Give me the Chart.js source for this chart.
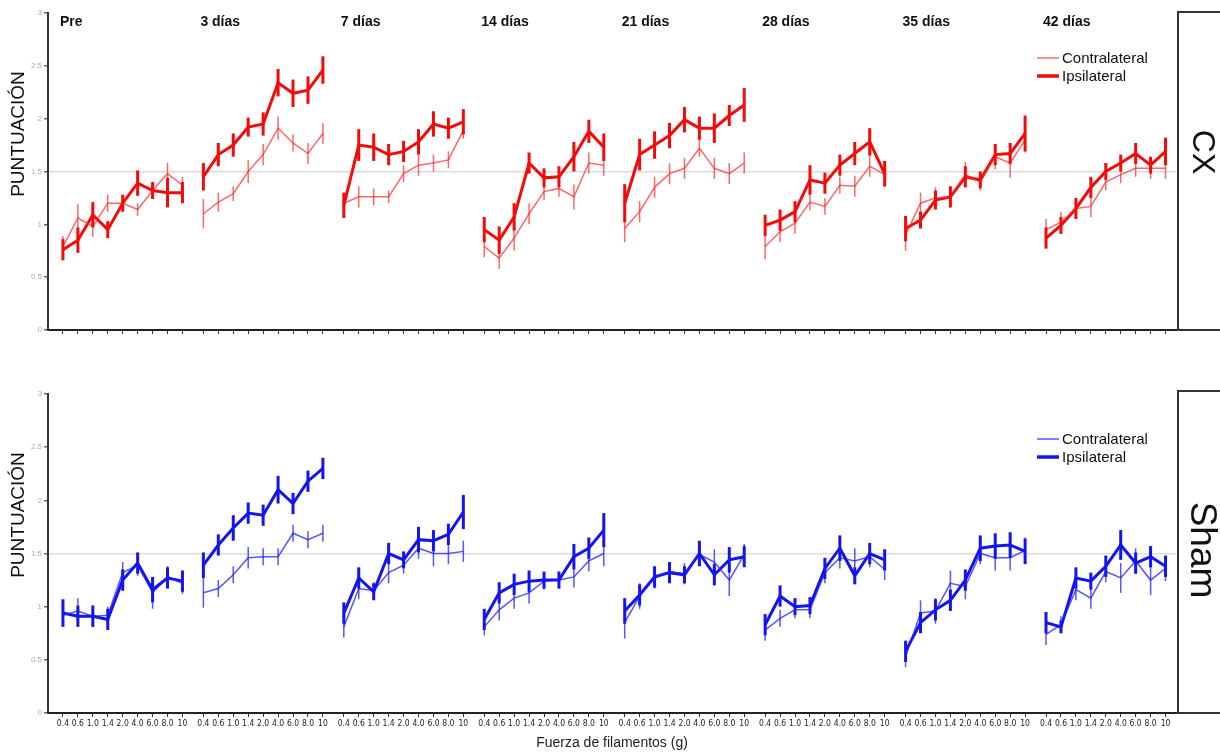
<!DOCTYPE html>
<html lang="es">
<head>
<meta charset="UTF-8">
<title>Puntuación según fuerza de filamentos</title>
<script src="https://cdn.jsdelivr.net/npm/chart.js"></script>
<style>
    body {
        margin: 0;
        width: 1220px;
        height: 755px;
        position: relative;
        overflow: hidden;
        background: #fff;
        font-family: 'Liberation Sans', sans-serif;
    }
    .panel {
        position: absolute;
        left: 0;
        width: 1178px;
    }
    #top { top: 0; height: 345px; }
    #bottom { top: 380px; height: 375px; }
    .box {
        position: absolute;
        left: 1177px;
        width: 70px;
        border: 2px solid #333;
        box-sizing: border-box;
    }
    .box span {
        position: absolute;
        left: 24px;
        transform: translate(-50%, -50%);
        writing-mode: vertical-rl;
        color: #111;
        white-space: nowrap;
    }
</style>
</head>
<body>

<div class="panel" id="top"><canvas id="cxChart"></canvas></div>
<div class="panel" id="bottom"><canvas id="shamChart"></canvas></div>

<div class="box" style="top:11px;height:320px"><span style="top:139px;font-size:32px">CX</span></div>
<div class="box" style="top:390px;height:324px"><span style="top:158px;font-size:37px">Sham</span></div>

<script>
    const forces = ['0.4', '0.6', '1.0', '1.4', '2.0', '4.0', '6.0', '8.0', '10'];
    const days = ['Pre', '3 días', '7 días', '14 días', '21 días', '28 días', '35 días', '42 días'];

    // CX
    const cxIpsi = [
        [0.76, 0.85, 1.09, 0.95, 1.2, 1.39, 1.32, 1.3, 1.3],
        [1.45, 1.66, 1.75, 1.92, 1.95, 2.34, 2.24, 2.27, 2.46],
        [1.18, 1.75, 1.73, 1.66, 1.69, 1.78, 1.95, 1.91, 1.97],
        [0.95, 0.85, 1.07, 1.58, 1.44, 1.45, 1.64, 1.88, 1.73],
        [1.2, 1.66, 1.75, 1.84, 1.99, 1.91, 1.91, 2.03, 2.13],
        [0.99, 1.04, 1.12, 1.42, 1.39, 1.56, 1.67, 1.78, 1.48],
        [0.96, 1.04, 1.23, 1.26, 1.45, 1.42, 1.66, 1.67, 1.86],
        [0.87, 0.99, 1.15, 1.35, 1.5, 1.58, 1.67, 1.56, 1.69]
    ];
    const cxContra = [
        [0.79, 1.06, 0.98, 1.2, 1.2, 1.14, 1.32, 1.48, 1.37],
        [1.1, 1.21, 1.29, 1.5, 1.66, 1.91, 1.77, 1.67, 1.86],
        [1.2, 1.26, 1.26, 1.26, 1.48, 1.56, 1.58, 1.61, 1.89],
        [0.79, 0.68, 0.87, 1.1, 1.31, 1.34, 1.26, 1.58, 1.56],
        [0.96, 1.12, 1.35, 1.48, 1.53, 1.72, 1.53, 1.48, 1.58],
        [0.79, 0.93, 1.01, 1.21, 1.17, 1.37, 1.36, 1.55, 1.47],
        [0.9, 1.2, 1.25, 1.26, 1.47, 1.4, 1.64, 1.58, 1.8],
        [0.95, 1.02, 1.15, 1.17, 1.4, 1.47, 1.53, 1.53, 1.53]
    ];
    const cxIpsiErr = [
        [0.1, 0.12, 0.12, 0.08, 0.08, 0.12, 0.08, 0.14, 0.1],
        [0.13, 0.11, 0.11, 0.09, 0.11, 0.13, 0.13, 0.13, 0.13],
        [0.12, 0.15, 0.13, 0.1, 0.1, 0.12, 0.12, 0.1, 0.12],
        [0.12, 0.13, 0.13, 0.1, 0.09, 0.1, 0.14, 0.11, 0.13],
        [0.18, 0.15, 0.13, 0.12, 0.12, 0.11, 0.14, 0.1, 0.16],
        [0.1, 0.1, 0.1, 0.14, 0.1, 0.1, 0.11, 0.13, 0.12],
        [0.12, 0.08, 0.09, 0.1, 0.1, 0.08, 0.1, 0.1, 0.17],
        [0.1, 0.08, 0.1, 0.1, 0.08, 0.08, 0.1, 0.08, 0.13]
    ];
    const cxContraErr = [
        [0.1, 0.13, 0.1, 0.08, 0.08, 0.06, 0.08, 0.1, 0.08],
        [0.14, 0.09, 0.07, 0.11, 0.1, 0.11, 0.08, 0.1, 0.1],
        [0.1, 0.1, 0.08, 0.06, 0.08, 0.1, 0.08, 0.08, 0.08],
        [0.1, 0.1, 0.12, 0.1, 0.08, 0.08, 0.12, 0.1, 0.1],
        [0.13, 0.1, 0.1, 0.1, 0.1, 0.08, 0.1, 0.1, 0.1],
        [0.12, 0.1, 0.1, 0.08, 0.08, 0.08, 0.1, 0.1, 0.12],
        [0.15, 0.1, 0.1, 0.1, 0.12, 0.08, 0.12, 0.14, 0.12],
        [0.1, 0.1, 0.1, 0.1, 0.08, 0.08, 0.08, 0.1, 0.1]
    ];

    // Sham
    const shamIpsi = [
        [0.94, 0.91, 0.91, 0.88, 1.25, 1.41, 1.16, 1.27, 1.24],
        [1.39, 1.58, 1.74, 1.88, 1.86, 2.1, 1.97, 2.18, 2.3],
        [0.94, 1.27, 1.14, 1.5, 1.44, 1.63, 1.62, 1.68, 1.89],
        [0.88, 1.13, 1.21, 1.24, 1.25, 1.25, 1.47, 1.55, 1.72],
        [0.96, 1.11, 1.28, 1.32, 1.3, 1.5, 1.3, 1.44, 1.47],
        [0.83, 1.1, 1.0, 1.01, 1.36, 1.55, 1.29, 1.5, 1.44],
        [0.58, 0.85, 0.97, 1.06, 1.25, 1.55, 1.57, 1.58, 1.52],
        [0.85, 0.81, 1.27, 1.24, 1.38, 1.58, 1.41, 1.47, 1.38]
    ];
    const shamContra = [
        [0.92, 0.96, 0.91, 0.92, 1.32, 1.39, 1.13, 1.28, 1.22],
        [1.13, 1.17, 1.3, 1.46, 1.47, 1.47, 1.69, 1.63, 1.69],
        [0.81, 1.17, 1.15, 1.32, 1.39, 1.55, 1.5, 1.5, 1.52],
        [0.81, 0.97, 1.08, 1.13, 1.24, 1.25, 1.28, 1.43, 1.5],
        [0.85, 1.1, 1.27, 1.33, 1.31, 1.49, 1.42, 1.25, 1.49],
        [0.78, 0.89, 0.97, 0.97, 1.32, 1.46, 1.43, 1.47, 1.35],
        [0.53, 0.94, 0.96, 1.22, 1.19, 1.5, 1.46, 1.46, 1.53],
        [0.74, 0.83, 1.16, 1.08, 1.33, 1.27, 1.43, 1.25, 1.36]
    ];
    const shamIpsiErr = [
        [0.13, 0.1, 0.1, 0.1, 0.1, 0.1, 0.12, 0.1, 0.1],
        [0.12, 0.1, 0.12, 0.1, 0.1, 0.13, 0.1, 0.1, 0.1],
        [0.1, 0.1, 0.08, 0.1, 0.08, 0.12, 0.1, 0.1, 0.16],
        [0.1, 0.1, 0.1, 0.1, 0.08, 0.08, 0.12, 0.1, 0.16],
        [0.12, 0.1, 0.1, 0.1, 0.08, 0.12, 0.1, 0.12, 0.1],
        [0.1, 0.1, 0.08, 0.08, 0.1, 0.12, 0.08, 0.1, 0.1],
        [0.1, 0.1, 0.1, 0.1, 0.1, 0.12, 0.12, 0.12, 0.12],
        [0.1, 0.06, 0.1, 0.08, 0.1, 0.14, 0.1, 0.1, 0.1]
    ];
    const shamContraErr = [
        [0.1, 0.12, 0.1, 0.08, 0.1, 0.1, 0.15, 0.1, 0.1],
        [0.14, 0.08, 0.08, 0.1, 0.08, 0.08, 0.08, 0.08, 0.08],
        [0.1, 0.1, 0.08, 0.1, 0.08, 0.1, 0.12, 0.1, 0.1],
        [0.08, 0.1, 0.1, 0.1, 0.08, 0.08, 0.1, 0.1, 0.12],
        [0.15, 0.12, 0.1, 0.08, 0.1, 0.1, 0.12, 0.15, 0.1],
        [0.1, 0.08, 0.08, 0.08, 0.1, 0.1, 0.12, 0.1, 0.1],
        [0.1, 0.12, 0.12, 0.12, 0.12, 0.1, 0.12, 0.12, 0.12],
        [0.1, 0.08, 0.1, 0.1, 0.1, 0.14, 0.12, 0.14, 0.12]
    ];

    const groupStep = 9.4; // distance between first points of consecutive groups, in point spacings

    // flatten groups into {x, y, e} points, with a null between groups so lines break
    function toPoints(vals, errs) {
        const pts = [];
        vals.forEach((grp, g) => {
            grp.forEach((v, i) => pts.push({ x: g * groupStep + i, y: v, e: errs[g][i] }));
            if (g < vals.length - 1) pts.push({ x: g * groupStep + 8.7, y: null, e: 0 });
        });
        return pts;
    }

    const tickPositions = [];
    days.forEach((d, g) => forces.forEach((f, i) => tickPositions.push(g * groupStep + i)));

    const errorBars = {
        id: 'errorBars',
        afterDatasetsDraw(chart) {
            const { ctx, scales: { x, y } } = chart;
            chart.data.datasets.forEach(ds => {
                ctx.save();
                ctx.strokeStyle = ds.borderColor;
                ctx.lineWidth = ds.borderWidth;
                ds.data.forEach(p => {
                    if (p.y == null) return;
                    const px = x.getPixelForValue(p.x);
                    ctx.beginPath();
                    ctx.moveTo(px, y.getPixelForValue(p.y - p.e));
                    ctx.lineTo(px, y.getPixelForValue(p.y + p.e));
                    ctx.stroke();
                });
                ctx.restore();
            });
        }
    };

    const decor = {
        id: 'decor',
        afterDraw(chart, args, opts) {
            const { ctx, chartArea: a, scales: { x } } = chart;

            ctx.save();
            ctx.translate(19, a.top + 121);
            ctx.rotate(-Math.PI / 2);
            ctx.font = '19px "Liberation Sans"';
            ctx.fillStyle = '#111';
            ctx.textAlign = 'center';
            ctx.textBaseline = 'middle';
            ctx.fillText('PUNTUACIÓN', 0, 0);
            ctx.restore();

            ctx.save();
            if (opts.showDays) {
                ctx.font = 'bold 14px "Liberation Sans"';
                ctx.fillStyle = '#111';
                days.forEach((d, g) => ctx.fillText(d, x.getPixelForValue(g * groupStep) - 3, 26));
            }
            // legend
            const lx = a.right - 139;
            const rows = [
                { label: 'Contralateral', color: opts.colors[0], w: 1.5, y: a.top + 45 },
                { label: 'Ipsilateral', color: opts.colors[1], w: 3.5, y: a.top + 63 }
            ];
            ctx.font = '15px "Liberation Sans"';
            rows.forEach(r => {
                ctx.strokeStyle = r.color;
                ctx.lineWidth = r.w;
                ctx.beginPath();
                ctx.moveTo(lx, r.y);
                ctx.lineTo(lx + 22, r.y);
                ctx.stroke();
                ctx.fillStyle = '#111';
                ctx.fillText(r.label, lx + 25, r.y + 5);
            });
            ctx.restore();
        }
    };

    function makeChart(id, ipsi, contra, ipsiErr, contraErr, colors, isBottom) {
        return new Chart(document.getElementById(id), {
            type: 'line',
            data: {
                datasets: [
                    {
                        label: 'Contralateral',
                        data: toPoints(contra, contraErr),
                        borderColor: colors[0],
                        borderWidth: 1.5,
                        pointRadius: 0,
                        tension: 0
                    },
                    {
                        label: 'Ipsilateral',
                        data: toPoints(ipsi, ipsiErr),
                        borderColor: colors[1],
                        borderWidth: 3,
                        pointRadius: 0,
                        tension: 0
                    }
                ]
            },
            options: {
                responsive: true,
                maintainAspectRatio: false,
                animation: false,
                events: [],
                layout: { padding: { top: isBottom ? 14 : 13, right: 2, left: 0, bottom: 0 } },
                plugins: {
                    legend: { display: false },
                    tooltip: { enabled: false },
                    decor: { showDays: !isBottom, colors: colors }
                },
                scales: {
                    x: {
                        type: 'linear',
                        min: -1,
                        max: 74.5,
                        afterBuildTicks: s => { s.ticks = tickPositions.map(v => ({ value: v })); },
                        afterFit: s => { s.height = isBottom ? 42 : 15; },
                        ticks: {
                            autoSkip: false,
                            maxRotation: 0,
                            padding: 2,
                            color: '#222',
                            font: { family: '"Liberation Sans Narrow", "DejaVu Sans Condensed", sans-serif', size: 8.5 },
                            callback: (v, i) => isBottom ? forces[i % forces.length] : ''
                        },
                        grid: { drawOnChartArea: false, drawTicks: true, tickLength: 4, tickColor: '#333' },
                        border: { display: true, color: '#222', width: 2 },
                        title: {
                            display: isBottom,
                            text: 'Fuerza de filamentos (g)',
                            color: '#222',
                            font: { family: '"Liberation Sans"', size: 14 },
                            padding: { top: 0, bottom: 3 }
                        }
                    },
                    y: {
                        min: 0,
                        max: 3,
                        afterFit: s => { s.width = 48; },
                        ticks: {
                            stepSize: 0.5,
                            color: '#aaa',
                            padding: 2,
                            font: { family: '"Liberation Sans"', size: 8 },
                            callback: v => String(v)
                        },
                        grid: {
                            color: c => (c.tick && c.tick.value === 1.5) ? '#dcdcdc' : 'rgba(0,0,0,0)',
                            lineWidth: 1.5,
                            tickLength: 4,
                            tickColor: '#666'
                        },
                        border: { display: true, color: '#333', width: 2 }
                    }
                }
            },
            plugins: [errorBars, decor]
        });
    }

    makeChart('cxChart', cxIpsi, cxContra, cxIpsiErr, cxContraErr,
        ['rgba(255, 40, 40, 0.7)', 'rgb(245, 10, 10)'], false);
    makeChart('shamChart', shamIpsi, shamContra, shamIpsiErr, shamContraErr,
        ['rgba(30, 30, 255, 0.75)', 'rgb(20, 20, 240)'], true);
</script>

</body>
</html>
